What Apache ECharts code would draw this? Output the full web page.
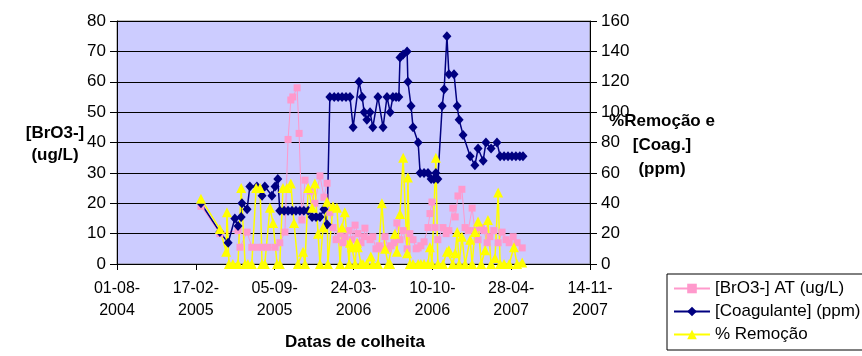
<!DOCTYPE html>
<html>
<head>
<meta charset="utf-8">
<script src="https://cdn.jsdelivr.net/npm/echarts@6/dist/echarts.min.js"></script>
<style>
  html, body { margin: 0; padding: 0; background: #ffffff; }
  #chart { width: 862px; height: 356px; }
</style>
</head>
<body>
<div id="chart"></div>
<script>
// Sampling dates and measurements
const brDates = ['2005-03-02','2005-04-19','2005-06-04','2005-06-09','2005-06-27','2005-07-09','2005-07-25','2005-08-06','2005-08-19','2005-09-06','2005-09-18','2005-10-01','2005-10-09','2005-10-16','2005-10-21','2005-11-01','2005-11-06','2005-11-13','2005-11-21','2005-12-04','2005-12-16','2005-12-29','2006-01-08','2006-01-16','2006-01-23','2006-01-31','2006-02-08','2006-02-18','2006-02-25','2006-03-02','2006-03-13','2006-03-20','2006-03-28','2006-04-04','2006-04-12','2006-04-20','2006-04-22','2006-05-05','2006-05-12','2006-05-20','2006-05-28','2006-06-04','2006-06-12','2006-06-20','2006-06-27','2006-07-05','2006-07-12','2006-07-20','2006-07-28','2006-08-07','2006-08-14','2006-08-22','2006-08-30','2006-09-04','2006-09-11','2006-09-19','2006-09-29','2006-10-04','2006-10-09','2006-10-17','2006-10-24','2006-11-06','2006-11-14','2006-11-21','2006-12-01','2006-12-07','2006-12-14','2006-12-24','2007-01-01','2007-01-09','2007-01-19','2007-01-26','2007-02-03','2007-02-11','2007-02-18','2007-02-26','2007-03-05','2007-03-15','2007-03-26','2007-04-05','2007-04-15','2007-04-23','2007-05-03','2007-05-13','2007-05-26'];
const brValues = [19,10,11,5.5,10.5,5.5,5.5,5.5,5.5,5.5,7,10.5,41,54,55,58,43,14.5,27.6,24,20,29,22,26.6,17,12,8,10,7,9,11,8,12.8,10,7,9,11.8,8,9,5,6,5,9,5,6,7,13.5,8,11,5,10,8,5,5.3,6,7.3,12,16.6,20.4,12,8,12,10,11,18.4,15.5,22.4,24.6,12,11,18.4,11,8,12,11,7,9,11,7,10.5,8,7,9,7,5.3];

const coagDates = ['2005-03-02','2005-04-19','2005-05-10','2005-05-27','2005-06-04','2005-06-12','2005-06-14','2005-06-27','2005-07-04','2005-07-22','2005-08-04','2005-08-11','2005-08-29','2005-09-06','2005-09-13','2005-09-18','2005-09-29','2005-10-09','2005-10-19','2005-10-29','2005-11-08','2005-11-18','2005-11-29','2005-12-09','2005-12-19','2005-12-29','2006-01-08','2006-01-16','2006-01-23','2006-02-03','2006-02-13','2006-02-23','2006-03-05','2006-03-15','2006-03-23','2006-04-07','2006-04-15','2006-04-20','2006-04-27','2006-05-05','2006-05-12','2006-05-25','2006-06-07','2006-06-17','2006-06-25','2006-07-02','2006-07-10','2006-07-17','2006-07-20','2006-07-28','2006-08-07','2006-08-09','2006-08-17','2006-08-22','2006-09-04','2006-09-09','2006-09-19','2006-09-29','2006-10-07','2006-10-14','2006-10-19','2006-10-24','2006-11-04','2006-11-09','2006-11-16','2006-11-21','2006-12-04','2006-12-12','2006-12-17','2006-12-27','2007-01-14','2007-01-26','2007-02-03','2007-02-16','2007-02-23','2007-03-08','2007-03-23','2007-03-31','2007-04-10','2007-04-20','2007-04-30','2007-05-10','2007-05-20','2007-05-28'];
const coagValues = [40,21,14,30,25,31,40,36,51,51,45,51,45,51,56,35,35,35,35,35,35,35,35,31,31,31,36,26,110,110,110,110,110,110,90,120,110,100,95,100,90,110,90,110,100,110,110,110,136,138,140,120,104,90,80,60,60,60,56,56,60,56,104,115,150,125,125,104,95,85,71,65,76,68,80,76,80,71,71,71,71,71,71,71];

const remDates = ['2005-03-02','2005-04-19','2005-05-05','2005-05-07','2005-05-12','2005-05-22','2005-06-04','2005-06-12','2005-06-22','2005-06-29','2005-07-09','2005-07-20','2005-07-30','2005-08-04','2005-08-11','2005-08-24','2005-09-01','2005-09-11','2005-09-18','2005-09-26','2005-10-06','2005-10-16','2005-10-24','2005-11-03','2005-11-16','2005-11-21','2005-11-29','2005-12-09','2005-12-16','2005-12-24','2005-12-29','2006-01-06','2006-01-16','2006-01-18','2006-01-31','2006-02-10','2006-02-18','2006-02-23','2006-03-02','2006-03-13','2006-03-15','2006-03-20','2006-03-28','2006-04-02','2006-04-04','2006-04-12','2006-04-17','2006-04-27','2006-05-07','2006-05-12','2006-05-25','2006-06-04','2006-06-12','2006-06-20','2006-06-25','2006-07-07','2006-07-12','2006-07-20','2006-07-28','2006-08-07','2006-08-09','2006-08-14','2006-08-22','2006-09-04','2006-09-11','2006-09-19','2006-09-29','2006-10-04','2006-10-09','2006-10-19','2006-10-24','2006-11-06','2006-11-16','2006-11-21','2006-12-01','2006-12-07','2006-12-12','2006-12-17','2006-12-24','2007-01-01','2007-01-14','2007-01-19','2007-01-26','2007-02-03','2007-02-11','2007-02-21','2007-02-28','2007-03-08','2007-03-18','2007-03-26','2007-03-31','2007-04-10','2007-04-23','2007-05-05','2007-05-13','2007-05-26'];
const remValues = [43,23,8,34,0,0,0,50,0,0,0,50,50,0,0,37,27,0,0,50,50,53,27,0,8,0,50,37,53,20,0,24,41,0,38,37,0,24,34,0,14,11,0,14,11,0,0,0,5,0,0,40,10,0,0,20,8,33,70,7,57,0,0,0,0,0,0,11,0,70,0,0,8,9,0,7,21,0,18,0,16,0,21,28,0,9,29,0,4,47,0,0,0,11,0,1];

// Axis tick labels (dd-mm-yyyy), 200 days apart
const xTickLabels = ['01-08-2004','17-02-2005','05-09-2005','24-03-2006','10-10-2006','28-04-2007','14-11-2007'];

const seriesNames = ['[BrO3-] AT (ug/L)', '[Coagulante] (ppm)', '% Remoção'];

const DAY = 86400000;
function parseDate(s) {
  const p = s.split('-').map(Number);
  return Date.UTC(p[0], p[1] - 1, p[2]);
}
function parseTick(s) {
  const p = s.split('-').map(Number);
  return Date.UTC(p[2], p[1] - 1, p[0]);
}
const pad = n => (n < 10 ? '0' : '') + n;

const tickValues = xTickLabels.map(parseTick);
const tickStep = tickValues[1] - tickValues[0];
const toPairs = (dates, vals) => dates.map((d, i) => [parseDate(d), vals[i]]);

const FONT = 'Liberation Sans, Arial, sans-serif';

const chart = echarts.init(document.getElementById('chart'), null, { renderer: 'canvas' });

chart.setOption({
  animation: false,
  backgroundColor: '#ffffff',
  textStyle: { fontFamily: FONT, color: '#000' },
  grid: {
    left: 117, right: 272, top: 21, bottom: 92,
    show: true, backgroundColor: '#CCCCFF', borderColor: '#808080', borderWidth: 1
  },
  legend: {
    orient: 'vertical',
    left: 667, top: 274,
    padding: [6, 6, 7, 6],
    itemWidth: 36, itemHeight: 12, itemGap: 6,
    borderColor: '#000', borderWidth: 1,
    textStyle: { fontFamily: FONT, fontSize: 17, color: '#000' },
    data: seriesNames
  },
  xAxis: {
    type: 'value',
    min: tickValues[0],
    max: tickValues[tickValues.length - 1],
    interval: tickStep,
    splitLine: { show: false },
    axisLine: { show: true, onZero: false, lineStyle: { color: '#000', width: 1 } },
    axisTick: { show: true, length: 6, lineStyle: { color: '#000' } },
    axisLabel: {
      margin: 14, showMinLabel: true, showMaxLabel: true,
      fontSize: 16, lineHeight: 22, color: '#000', fontFamily: FONT,
      formatter: v => {
        const d = new Date(Math.round(v / DAY) * DAY);
        return pad(d.getUTCDate()) + '-' + pad(d.getUTCMonth() + 1) + '-\n' + d.getUTCFullYear();
      }
    }
  },
  yAxis: [
    {
      type: 'value', min: 0, max: 80, interval: 10, position: 'left',
      axisLine: { show: true, lineStyle: { color: '#000' } },
      axisTick: { show: true, length: 7, lineStyle: { color: '#000' } },
      axisLabel: { margin: 11, fontSize: 17, color: '#000', fontFamily: FONT },
      splitLine: { show: true, lineStyle: { color: '#000', width: 1 } }
    },
    {
      type: 'value', min: 0, max: 160, interval: 20, position: 'right',
      axisLine: { show: true, lineStyle: { color: '#000' } },
      axisTick: { show: true, length: 7, lineStyle: { color: '#000' } },
      axisLabel: { margin: 11, fontSize: 17, color: '#000', fontFamily: FONT },
      splitLine: { show: false }
    }
  ],
  graphic: [
    {
      type: 'text', x: 55, y: 144,
      style: { text: '[BrO3-]\n(ug/L)', font: 'bold 17px ' + FONT, fill: '#000',
               textAlign: 'center', textVerticalAlign: 'middle', lineHeight: 22 }
    },
    {
      type: 'text', x: 662, y: 145,
      style: { text: '%Remoção e\n[Coag.]\n(ppm)', font: 'bold 17px ' + FONT, fill: '#000',
               textAlign: 'center', textVerticalAlign: 'middle', lineHeight: 24 }
    },
    {
      type: 'text', x: 355, y: 342,
      style: { text: 'Datas de colheita', font: 'bold 17px ' + FONT, fill: '#000',
               textAlign: 'center', textVerticalAlign: 'middle' }
    }
  ],
  series: [
    {
      name: seriesNames[0], type: 'line', yAxisIndex: 0, clip: false,
      data: toPairs(brDates, brValues),
      symbol: 'rect', symbolSize: 7,
      itemStyle: { color: '#FF99CC' },
      lineStyle: { color: '#FF99CC', width: 1 }
    },
    {
      name: seriesNames[1], type: 'line', yAxisIndex: 1, clip: false,
      data: toPairs(coagDates, coagValues),
      symbol: 'diamond', symbolSize: [9, 10],
      itemStyle: { color: '#000080' },
      lineStyle: { color: '#000080', width: 1.5 }
    },
    {
      name: seriesNames[2], type: 'line', yAxisIndex: 1, clip: false,
      data: toPairs(remDates, remValues),
      symbol: 'triangle', symbolSize: 10,
      itemStyle: { color: '#FFFF00' },
      lineStyle: { color: '#FFFF00', width: 1.5 }
    }
  ]
});
</script>
</body>
</html>
